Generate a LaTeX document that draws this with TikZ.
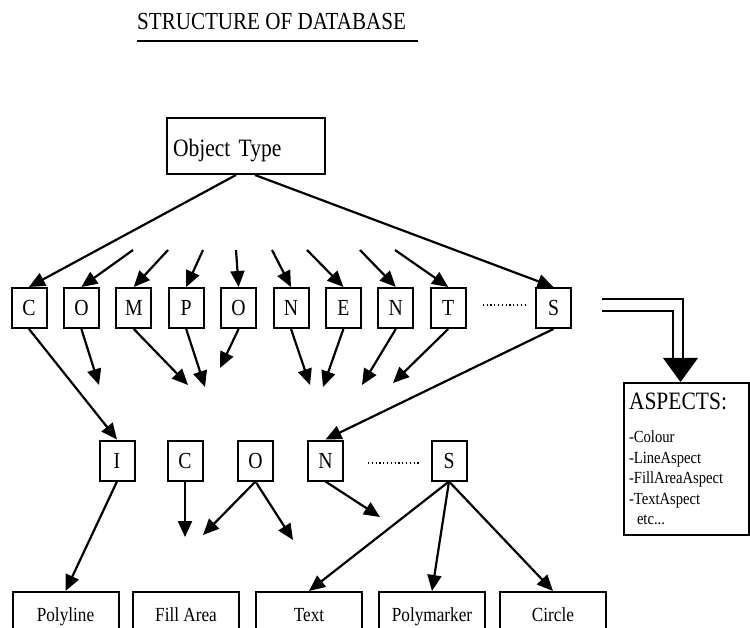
\documentclass[tikz,border=0pt]{standalone}
\usepackage{fontspec}
\setmainfont{Liberation Serif}[FakeStretch=0.86]
\usetikzlibrary{arrows.meta}

\begin{document}
\begin{tikzpicture}[x=1pt, y=-1pt,
    box/.style={draw, line width=2pt, inner sep=0pt},
    letter/.style={box, minimum width=35pt, minimum height=40pt, text height=16pt, text depth=0pt, font=\fontsize{23}{23}\selectfont},
    prim/.style={box, minimum width=106pt, minimum height=48pt, text height=14pt, text depth=4pt, font=\fontsize{20}{20}\selectfont},
    arr/.style={line width=2.2pt, -{Triangle[length=16pt, width=14pt]}},
    dots/.style={line width=2pt, dash pattern=on 1.2pt off 2.6pt}]
    \useasboundingbox (0,0) rectangle (750,628);

    % Title
    \node[anchor=base west, inner sep=0pt, font=\fontsize{24.5}{24.5}\selectfont] (title) at (137,30) {STRUCTURE OF DATABASE};
    \draw[line width=2pt] ([yshift=-11pt]title.base west) -- ++(281,0);

    % Object type
    \node[box, minimum height=56pt, text width=146pt, inner xsep=6pt, align=left, text height=22pt, text depth=0pt, font=\fontsize{25}{25}\selectfont] (obj) at (246,146) {Object Type};

    % COMPONENTS
    \foreach \ch [count=\i from 0] in {C,O,M,P,O,N,E,N,T}
        \node[letter] (c\i) at ({29+52.4*\i},308) {\ch};
    \node[letter] (cS) at (553.5,308) {S};
    \draw[dots] ([xshift=16pt, yshift=3pt]c8.east) -- ([xshift=-8pt, yshift=3pt]cS.west);

    \draw[arr] ([xshift=-10pt]obj.south) -- (c0.north);
    \draw[arr] ([xshift=9pt]obj.south) -- (cS.north);
    \foreach \sx [count=\i] in {133,168,203,236,272,307,360,395} {
        \coordinate (t\i) at (\sx,250);
        \draw[arr] (t\i) -- (c\i.north);
    }

    % ICONS
    \node[letter] (iI) at (117,460.5) {I};
    \node[letter] (iC) at (185,460.5) {C};
    \node[letter] (iO) at (255.5,460.5) {O};
    \node[letter] (iN) at (325.5,460.5) {N};
    \node[letter] (iS) at (449,460.5) {S};
    \draw[dots] ([xshift=24pt, yshift=-2pt]iN.east) -- ([xshift=-11pt, yshift=-2pt]iS.west);

    \draw[arr] (c0.south) -- (iI.north);
    \draw[arr] (cS.south) -- (iN.north);
    \foreach \i/\ex/\ey in {1/99/385, 2/188/385, 3/205/387, 4/220/368, 5/310/385, 6/323/387, 7/362/385, 8/393/383} {
        \coordinate (d\i) at (\ex,\ey);
        \draw[arr] (c\i.south) -- (d\i);
    }

    % Primitives
    \node[prim] (poly) at (65.5,616) {Polyline};
    \node[prim] (fill) at (186,616) {Fill Area};
    \node[prim] (text) at (309,616) {Text};
    \node[prim] (pmark) at (432,616) {Polymarker};
    \node[prim] (circ) at (553,616) {Circle};

    \coordinate (e1) at (185,537);
    \coordinate (e2) at (203,535);
    \coordinate (e3) at (293,540);
    \coordinate (e4) at (380,517);
    \draw[arr] (iI.south) -- (poly.north);
    \draw[arr] (iC.south) -- (e1);
    \draw[arr] (iO.south) -- (e2);
    \draw[arr] (iO.south) -- (e3);
    \draw[arr] (iN.south) -- (e4);
    \draw[arr] (iS.south) -- (text.north);
    \draw[arr] (iS.south) -- (pmark.north);
    \draw[arr] (iS.south) -- (circ.north);

    % Aspects
    \node[box, anchor=north west, minimum height=152pt, text width=115pt, inner xsep=5pt, align=left, font=\fontsize{17}{20.5}\selectfont] (asp) at (623,382)
        {{\fontsize{25}{25}\selectfont ASPECTS:}\\[13pt]
         -Colour\\ -LineAspect\\ -FillAreaAspect\\ -TextAspect\\ \hspace*{8pt}etc...};
    \coordinate (dbl1) at (602,299);
    \coordinate (dbl2) at (602,311);
    \draw[line width=2pt] (dbl1) -| ([xshift=-3.5pt, yshift=23pt]asp.north);
    \draw[line width=2pt] (dbl2) -| ([xshift=-13.5pt, yshift=23pt]asp.north);
    \fill ([xshift=-23.5pt, yshift=24pt]asp.north) -- ([xshift=11.5pt, yshift=24pt]asp.north) -- ([xshift=-6pt]asp.north) -- cycle;

\end{tikzpicture}
\end{document}
